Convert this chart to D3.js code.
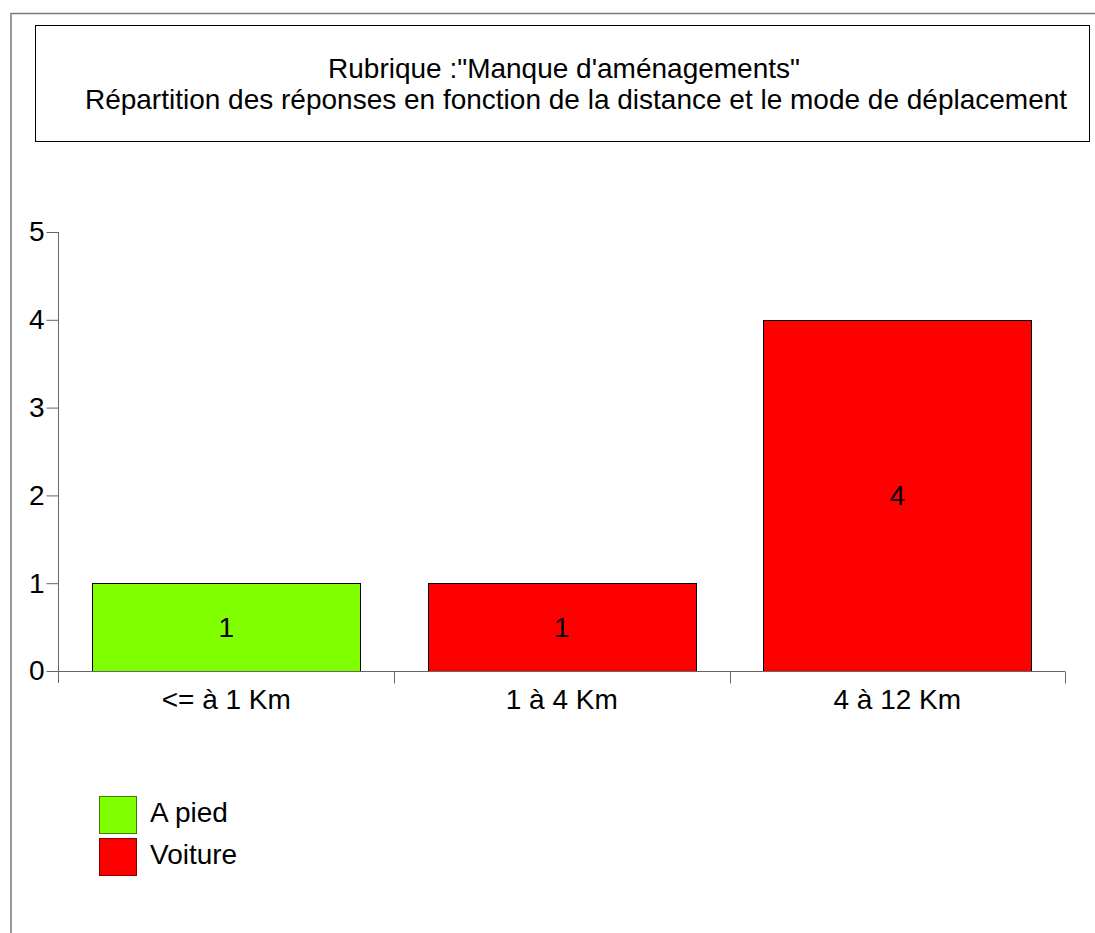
<!DOCTYPE html>
<html>
<head>
<meta charset="utf-8">
<script src="https://cdn.jsdelivr.net/npm/d3@7"></script>
<style>
  html, body { margin: 0; padding: 0; background: #fff; }
  svg { display: block; }
  text { font-family: "Liberation Sans", Arial, sans-serif; fill: #000; }
</style>
</head>
<body>
<svg id="chart" width="1095" height="933"></svg>
<script>
const titleLines = ["Rubrique :\"Manque d'aménagements\"", "Répartition des réponses en fonction de la distance et le mode de déplacement"];
const categories = ["<= à 1 Km", "1 à 4 Km", "4 à 12 Km"];
const modes = ["A pied", "Voiture", "Voiture"];
const values = [1, 1, 4];
const legendLabels = ["A pied", "Voiture"];
const legendColors = ["#80ff00", "#ff0000"];
const legendStrokes = ["#3f7f00", "#7f0000"];
const yTicks = [0, 1, 2, 3, 4, 5];

const svg = d3.select("#chart");
const FS = 28;

// outer frame
svg.append("path").attr("d", "M11,933V13.5H1095").attr("fill", "none").attr("stroke", "#7a7a7a").attr("stroke-width", 1.5);

// title box
svg.append("rect").attr("x", 35.5).attr("y", 25.5).attr("width", 1054).attr("height", 116)
  .attr("fill", "#fff").attr("stroke", "#000");
const titleX = [564, 576];
svg.selectAll("text.title").data(titleLines).enter().append("text")
  .attr("class", "title").attr("x", (d, i) => titleX[i]).attr("y", (d, i) => 78 + i * 31)
  .attr("text-anchor", "middle").attr("font-size", FS).text(d => d);

const x = d3.scaleBand().domain(categories).range([58.5, 1065]).paddingInner(0.2).paddingOuter(0.1);
const y = d3.scaleLinear().domain([0, 5]).range([671, 232]);
const color = d3.scaleOrdinal().domain(legendLabels).range(legendColors);

// bars
const data = categories.map((c, i) => ({ c, v: values[i], m: modes[i] }));
svg.selectAll("rect.bar").data(data).enter().append("rect")
  .attr("class", "bar")
  .attr("x", d => Math.round(x(d.c)) + 0.5)
  .attr("y", d => Math.round(y(d.v)) + 0.5)
  .attr("width", Math.round(x.bandwidth()))
  .attr("height", d => Math.round(y(0)) - Math.round(y(d.v)))
  .attr("fill", d => color(d.m)).attr("stroke", "#000");

svg.selectAll("text.val").data(data).enter().append("text")
  .attr("class", "val")
  .attr("x", d => x(d.c) + x.bandwidth() / 2)
  .attr("y", d => (y(d.v) + y(0)) / 2 + 10)
  .attr("text-anchor", "middle").attr("font-size", FS).text(d => d.v);

// y axis
const yAxis = svg.append("g").attr("transform", "translate(58.5,0)")
  .call(d3.axisLeft(y).tickValues(yTicks).tickSize(12).tickPadding(2).tickFormat(d3.format("d")));
yAxis.select(".domain").attr("d", `M0,${y(5)}V683`);

// x axis
const xAxis = svg.append("g").attr("transform", "translate(0,671.5)")
  .call(d3.axisBottom(x).tickSize(0).tickPadding(18));
xAxis.select(".domain").attr("d", "M58.5,0H1065");
const bounds = [x.range()[0]].concat(categories.map(c => x(c) + x.bandwidth() + x.step() * 0.1));
xAxis.selectAll("line.sep").data(bounds.slice(1)).enter().append("line")
  .attr("class", "sep").attr("x1", d => Math.round(d) + 0.5).attr("x2", d => Math.round(d) + 0.5)
  .attr("y1", 0).attr("y2", 12);

svg.selectAll(".domain, .tick line, line.sep").attr("stroke", "#666");
svg.selectAll(".tick text").attr("font-size", FS).attr("fill", "#000")
  .attr("font-family", "\"Liberation Sans\", Arial, sans-serif");

// legend
const lg = svg.append("g");
legendLabels.forEach((l, i) => {
  lg.append("rect").attr("x", 99.5).attr("y", 796.5 + i * 42).attr("width", 37).attr("height", 37)
    .attr("fill", legendColors[i]).attr("stroke", legendStrokes[i]);
  lg.append("text").attr("x", 150).attr("y", 822 + i * 42).attr("font-size", FS).text(l);
});
</script>
</body>
</html>
